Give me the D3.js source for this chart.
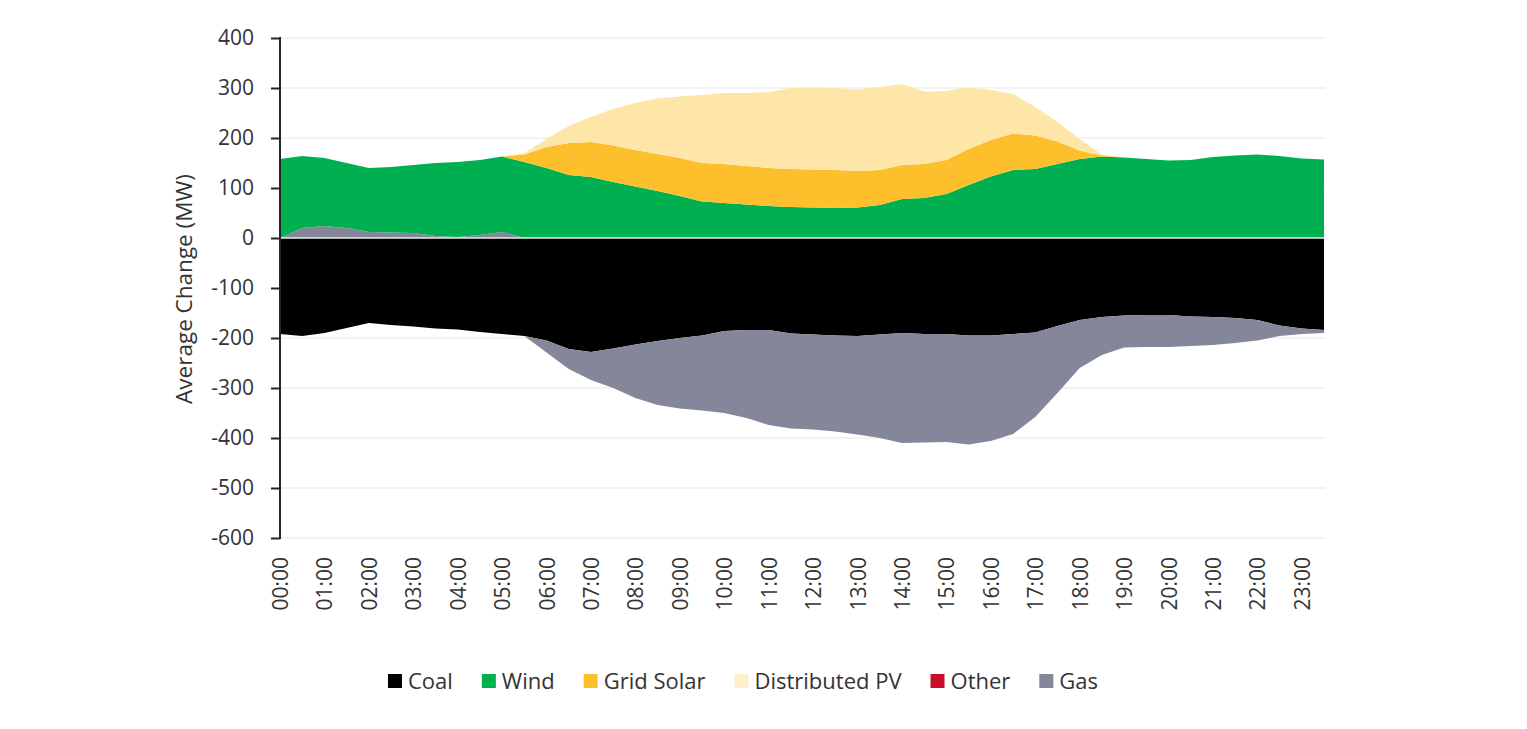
<!DOCTYPE html>
<html>
<head>
<meta charset="utf-8">
<script src="https://cdn.jsdelivr.net/npm/d3@7"></script>
<style>
  html, body { margin: 0; padding: 0; background: #ffffff; }
  svg { display: block; font-family: "Open Sans", "Noto Sans", sans-serif; }
</style>
</head>
<body>
<svg id="chart" width="1527" height="729"></svg>
<script>
// ---- Data (half-hourly, 00:00 .. 23:30) ----
const times = d3.range(48).map(i => String(Math.floor(i / 2)).padStart(2, "0") + (i % 2 ? ":30" : ":00"));
const tickLabels = times.filter((t, i) => i % 2 === 0);
const yTicks = [400, 300, 200, 100, 0, -100, -200, -300, -400, -500, -600];
const seriesNames = ["Coal", "Wind", "Grid Solar", "Distributed PV", "Other", "Gas"];

const coal = [-192,-196,-190,-180,-170,-174,-177,-181,-183,-188,-192,-196,
              -205,-222,-228,-221,-213,-206,-200,-195,-186,-184,-184,-191,
              -193,-195,-196,-193,-190,-192,-192,-195,-195,-192,-189,-176,
              -164,-158,-155,-154,-154,-157,-158,-160,-164,-175,-181,-184];
const wind = [158,144,136,130,128,131,136,146,150,150,151,152,
              140,126,122,112,103,94,84,73,70,67,64,62,
              61,60,61,66,78,80,88,106,123,136,138,148,
              158,163,161,158,155,156,162,165,167,164,159,157];
const gridSolar = [0,0,0,0,0,0,0,0,0,0,0,15,
                   42,64,70,73,73,74,76,77,78,77,76,76,
                   76,76,73,70,68,68,68,72,73,73,67,45,
                   17,2,0,0,0,0,0,0,0,0,0,0];
const distributedPV = [0,0,0,0,0,0,0,0,0,0,0,3,
                       16,34,50,73,94,111,123,136,142,146,152,162,
                       164,164,163,166,162,145,138,123,100,79,57,39,
                       23,2,0,0,0,0,0,0,0,0,0,0];
const other = new Array(48).fill(0);
const gas = [0,20,24,20,12,11,10,4,2,6,12,0,
             -24,-40,-56,-79,-107,-128,-141,-150,-164,-176,-190,-190,
             -190,-192,-197,-207,-220,-217,-216,-218,-211,-200,-169,-134,
             -96,-76,-64,-64,-64,-59,-56,-50,-41,-21,-11,-6];

const areaColors = {"Coal":"#000000","Wind":"#00B050","Grid Solar":"#FDBF2B","Distributed PV":"#FDE6A7","Other":"#C8102E","Gas":"#848699"};
const swatchColors = {"Coal":"#000000","Wind":"#00B050","Grid Solar":"#FDBF2B","Distributed PV":"#FEF0CC","Other":"#C8102E","Gas":"#848699"};

const rows = times.map((t, i) => ({
  time: t, "Coal": coal[i], "Wind": wind[i], "Grid Solar": gridSolar[i],
  "Distributed PV": distributedPV[i], "Other": other[i], "Gas": gas[i]
}));

// ---- Layout ----
const svg = d3.select("#chart");
const mLeft = 280, mRight = 1324, mTop = 38, mBottom = 538;
const x = d3.scalePoint().domain(times).range([mLeft, mRight]);
const y = d3.scaleLinear().domain([-600, 400]).range([mBottom, mTop]);
const textColor = "#333333";

// Gridlines
svg.append("g").selectAll("line").data(yTicks).join("line")
  .attr("x1", mLeft).attr("x2", mRight + 1)
  .attr("y1", d => y(d)).attr("y2", d => y(d))
  .attr("stroke", "#e7e7e7").attr("stroke-width", 1.2);

// Stacks: positive side (Gas, Wind, Grid Solar, Distributed PV, Other), negative (Coal, Gas, Other)
const posKeys = ["Gas", "Wind", "Grid Solar", "Distributed PV", "Other"];
const negKeys = ["Coal", "Gas", "Other"];
const posStack = d3.stack().keys(posKeys).value((d, k) => Math.max(0, d[k]))(rows);
const negStack = d3.stack().keys(negKeys).value((d, k) => Math.min(0, d[k]))(rows);

const area = d3.area()
  .x((d, i) => x(times[i]))
  .y0(d => y(d[0]))
  .y1(d => y(d[1]));

const gAreas = svg.append("g");
negStack.forEach(s => {
  gAreas.append("path").datum(s).attr("d", area).attr("fill", areaColors[s.key]);
});
posStack.forEach(s => {
  gAreas.append("path").datum(s).attr("d", area).attr("fill", areaColors[s.key]);
});

// Zero line
svg.append("line")
  .attr("x1", mLeft).attr("x2", mRight)
  .attr("y1", y(0)).attr("y2", y(0))
  .attr("stroke", "#e8eee8").attr("stroke-width", 1.6);

// Y axis
const yAxis = d3.axisLeft(y).tickValues(yTicks).tickSize(9).tickPadding(17).tickFormat(d => String(d));
const gy = svg.append("g").attr("transform", `translate(${mLeft},0)`).call(yAxis);
gy.select(".domain").attr("stroke", "#262626").attr("stroke-width", 2)
  .attr("d", `M0,${mTop - 1}V${mBottom + 1}`);
gy.selectAll(".tick line").attr("stroke", "#262626").attr("stroke-width", 2);
gy.selectAll(".tick text").attr("fill", textColor)
  .style("font-size", "21px").style("font-family", "'Open Sans', sans-serif");

// X axis labels (hourly)
const gx = svg.append("g");
gx.selectAll("text").data(tickLabels).join("text")
  .attr("transform", d => `translate(${x(d) + 8},557) rotate(-90)`)
  .attr("text-anchor", "end")
  .attr("fill", textColor)
  .style("font-size", "21px")
  .text(d => d);

// Y title
svg.append("text")
  .attr("transform", "translate(192,289) rotate(-90)")
  .attr("text-anchor", "middle")
  .attr("fill", textColor)
  .style("font-size", "22.5px")
  .text("Average Change (MW)");

// Legend
const legend = svg.append("g");
const items = legend.selectAll("g").data(seriesNames).join("g");
items.append("rect").attr("width", 14).attr("height", 14).attr("y", -7)
  .attr("fill", d => swatchColors[d]);
items.append("text").attr("x", 20).attr("y", 0).attr("dy", "0.35em")
  .attr("fill", textColor).style("font-size", "22px").text(d => d);
let cx = 0;
const pos = [];
items.each(function(d) {
  const w = 20 + this.querySelector("text").getComputedTextLength();
  pos.push(cx);
  cx += w + 29;
});
const totalW = cx - 29;
const startX = 743 - totalW / 2;
items.attr("transform", (d, i) => `translate(${startX + pos[i]},681)`);
</script>
</body>
</html>
